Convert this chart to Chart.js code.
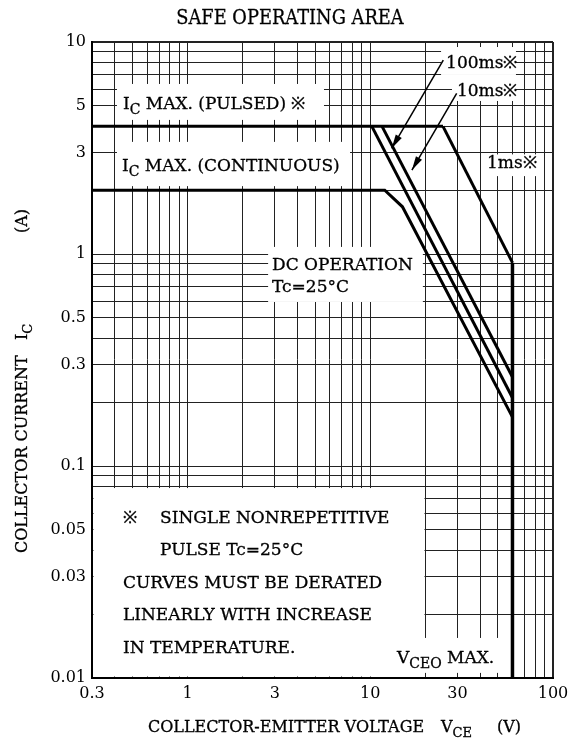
<!DOCTYPE html>
<html>
<head>
<meta charset="utf-8">
<script src="https://cdn.jsdelivr.net/npm/chart.js@4.4.0/dist/chart.umd.min.js"></script>
<style>
  html, body { margin: 0; padding: 0; background: #fff; }
  #wrap { width: 580px; height: 744px; }
</style>
</head>
<body>
<div id="wrap"><canvas id="soa" width="580" height="744"></canvas></div>
<script>
// log paper grid and the labelled values
const xGrid = [0.3, 0.4, 0.5, 0.6, 0.7, 0.8, 0.9, 1, 2, 3, 4, 5, 6, 7, 8, 9, 10, 20, 30, 40, 50, 60, 70, 80, 90, 100];
const yGrid = [0.01, 0.02, 0.03, 0.04, 0.05, 0.06, 0.07, 0.08, 0.09, 0.1, 0.2, 0.3, 0.4, 0.5, 0.6, 0.7, 0.8, 0.9, 1, 2, 3, 4, 5, 6, 7, 8, 9, 10];
const xLabels = [0.3, 1, 3, 10, 30, 100];
const yLabels = [0.01, 0.03, 0.05, 0.1, 0.3, 0.5, 1, 3, 5, 10];

// curves, VCE (V) vs IC (A)
const pulsedV = [0.3, 25];
const pulsedI = [4, 4];
const dcV = [0.3, 12, 15, 60];
const dcI = [2, 2, 1.67, 0.17];
const ms100V = [10.2, 60];
const ms100I = [4, 0.21];
const ms10V = [11.6, 60];
const ms10I = [4, 0.263];
const ms1V = [25, 60];
const ms1I = [4, 0.91];
const vceoV = [60, 60];
const vceoI = [0.91, 0.01];

// pointer arrows for the 100ms / 10ms labels (tail -> head)
const arrow100V = [25.1, 13.1];
const arrow100I = [8.22, 3.15];
const arrow10V = [29.7, 16.9];
const arrow10I = [5.73, 2.49];

// white label boxes on the paper: [V from, V to, I low, I high]
const blankBoxes = [
  [0.411, 5.58, 4.29, 6.34],
  [0.411, 7.75, 2.09, 3.38],
  [2.76, 19.4, 0.594, 1.08],
  [0.3, 19.8, 0.01, 0.0787],
  [19.8, 56.8, 0.01057, 0.01545],
  [24.4, 62.7, 6.99, 9.47],
  [28, 62.7, 5.27, 6.99],
  [41.4, 83.8, 2.33, 2.95],
];

// in-plot text: parts ('_' = subscript), left edge V, baseline I
const noteTexts = [
  [['I', '_C', ' MAX. (PULSED) ※'], 0.443, 4.83],
  [['I', '_C', ' MAX. (CONTINUOUS)'], 0.438, 2.46],
  [['DC OPERATION'], 2.9, 0.84],
  [['Tc=25°C'], 2.9, 0.662],
  [['100ms※'], 26, 7.54],
  [['10ms※'], 29.8, 5.56],
  [['1ms※'], 43.5, 2.55],
  [['V', '_CEO', ' MAX.'], 14, 0.01178],
  [['※'], 0.443, 0.0538],
  [['SINGLE NONREPETITIVE'], 0.707, 0.0538],
  [['PULSE Tc=25°C'], 0.707, 0.038],
  [['CURVES MUST BE DERATED'], 0.443, 0.0266],
  [['LINEARLY WITH INCREASE'], 0.443, 0.0188],
  [['IN TEMPERATURE.'], 0.443, 0.0131],
];

const SERIF = '"DejaVu Serif", serif';

function pts(vs, is) {
  return vs.map((v, i) => ({ x: v, y: is[i] }));
}

// text with subscripts, lightly stroked so it reads as heavy as the scan
function drawRich(ctx, parts, x, y, size) {
  let cx = x;
  ctx.strokeStyle = '#000';
  ctx.lineWidth = 0.3;
  for (const p of parts) {
    const sub = p.startsWith('_');
    const t = sub ? p.slice(1) : p;
    ctx.font = (sub ? Math.round(size * 0.8) : size) + 'px ' + SERIF;
    const ty = sub ? y + size * 0.3 : y;
    ctx.fillText(t, cx, ty);
    ctx.strokeText(t, cx, ty);
    cx += ctx.measureText(t).width;
  }
}

function arrowHead(ctx, x0, y0, x1, y1) {
  const a = Math.atan2(y1 - y0, x1 - x0);
  const len = 14, w = 3.5;
  ctx.beginPath();
  ctx.moveTo(x1, y1);
  ctx.lineTo(x1 - len * Math.cos(a) + w * Math.sin(a), y1 - len * Math.sin(a) - w * Math.cos(a));
  ctx.lineTo(x1 - len * Math.cos(a) - w * Math.sin(a), y1 - len * Math.sin(a) + w * Math.cos(a));
  ctx.closePath();
  ctx.fill();
}

const paperPlugin = {
  id: 'paper',
  beforeDatasetsDraw(chart) {
    const { ctx, chartArea: ca, scales: { x, y } } = chart;
    ctx.save();
    ctx.beginPath();
    ctx.rect(ca.left + 1.5, ca.top + 1.5, ca.right - ca.left - 3, ca.bottom - ca.top - 3);
    ctx.clip();
    ctx.fillStyle = '#fff';
    blankBoxes.forEach(b => {
      const x0 = x.getPixelForValue(b[0]), x1 = x.getPixelForValue(b[1]);
      const y0 = y.getPixelForValue(b[3]), y1 = y.getPixelForValue(b[2]);
      ctx.fillRect(x0, y0, x1 - x0, y1 - y0);
    });
    ctx.restore();

    ctx.save();
    ctx.fillStyle = '#000';
    ctx.textBaseline = 'alphabetic';
    noteTexts.forEach(n => {
      drawRich(ctx, n[0], x.getPixelForValue(n[1]), y.getPixelForValue(n[2]), 17);
    });
    ctx.restore();
  },
  afterDatasetsDraw(chart) {
    const { ctx, scales: { x, y } } = chart;
    ctx.save();
    ctx.fillStyle = '#000';
    [[arrow100V, arrow100I], [arrow10V, arrow10I]].forEach(([vs, is]) => {
      arrowHead(ctx, x.getPixelForValue(vs[0]), y.getPixelForValue(is[0]),
        x.getPixelForValue(vs[1]), y.getPixelForValue(is[1]));
    });

    ctx.textBaseline = 'alphabetic';
    drawRich(ctx, ['COLLECTOR-EMITTER VOLTAGE'], 148, 732, 16);
    drawRich(ctx, ['V', '_CE'], 441, 732, 16);
    drawRich(ctx, ['(V)'], 497, 732, 16);

    // title: taller, slightly condensed face
    ctx.save();
    ctx.font = '20px ' + SERIF;
    const tw = ctx.measureText('SAFE OPERATING AREA').width * 0.89;
    ctx.translate(290 - tw / 2, 24);
    ctx.scale(0.89, 1);
    drawRich(ctx, ['SAFE OPERATING AREA'], 0, 0, 20);
    ctx.restore();

    ctx.translate(27, 0);
    ctx.rotate(-Math.PI / 2);
    drawRich(ctx, ['COLLECTOR CURRENT'], -553, 0, 16);
    drawRich(ctx, ['I', '_C'], -340, 0, 16);
    drawRich(ctx, ['(A)'], -233, 0, 16);
    ctx.restore();
  }
};

const lineDs = (label, vs, is, w) => ({
  label, data: pts(vs, is), borderColor: '#000', borderWidth: w,
  pointRadius: 0, tension: 0, fill: false
});

new Chart(document.getElementById('soa').getContext('2d'), {
  type: 'line',
  data: {
    datasets: [
      lineDs('IC max pulsed', pulsedV, pulsedI, 3),
      lineDs('DC', dcV, dcI, 3),
      lineDs('100ms', ms100V, ms100I, 3),
      lineDs('10ms', ms10V, ms10I, 3),
      lineDs('1ms', ms1V, ms1I, 3),
      lineDs('VCEO max', vceoV, vceoI, 3.5),
      lineDs('arrow 100ms', arrow100V, arrow100I, 1.5),
      lineDs('arrow 10ms', arrow10V, arrow10I, 1.5),
    ]
  },
  options: {
    responsive: false,
    animation: false,
    devicePixelRatio: 1,
    layout: { padding: { top: 42, right: 27, left: 0, bottom: 0 } },
    plugins: { legend: { display: false }, tooltip: { enabled: false }, title: { display: false } },
    scales: {
      x: {
        type: 'logarithmic', min: 0.3, max: 100,
        afterBuildTicks: s => { s.ticks = xGrid.map(v => ({ value: v })); },
        afterFit: s => { s.height = 66; },
        grid: { color: '#222', lineWidth: c => (c.tick && c.tick.value === 100 ? 2 : 1), drawTicks: false },
        border: { color: '#000', width: 2 },
        ticks: {
          autoSkip: false, maxRotation: 0, minRotation: 0, padding: 6, color: '#000',
          font: { family: SERIF, size: 16 },
          callback: v => (xLabels.includes(v) ? String(v) : '')
        }
      },
      y: {
        type: 'logarithmic', min: 0.01, max: 10,
        afterBuildTicks: s => { s.ticks = yGrid.map(v => ({ value: v })); },
        afterFit: s => { s.width = 92; },
        grid: { color: '#222', lineWidth: c => (c.tick && c.tick.value === 10 ? 2 : 1), drawTicks: false },
        border: { color: '#000', width: 2 },
        ticks: {
          autoSkip: false, padding: 6, color: '#000',
          font: { family: SERIF, size: 16 },
          callback: v => (yLabels.includes(v) ? String(v) : '')
        }
      }
    }
  },
  plugins: [paperPlugin]
});
</script>
</body>
</html>
